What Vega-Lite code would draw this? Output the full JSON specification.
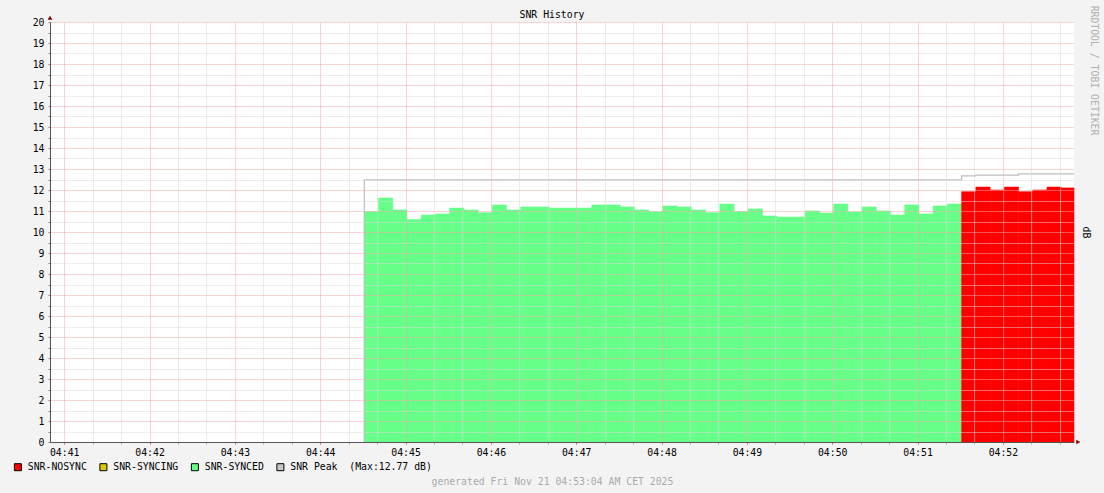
{
  "$schema": "https://vega.github.io/schema/vega-lite/v6.json",
  "width": 1024,
  "height": 420,
  "autosize": "none",
  "padding": {"left": 50, "top": 22, "right": 30, "bottom": 51},
  "background": "#f3f3f3",
  "config": {"view": {"fill": "white", "stroke": null}, "font": "DejaVu Sans Mono"},
  "title": {"text": "SNR History", "font": "DejaVu Sans Mono", "fontSize": 9.8, "fontWeight": "normal", "color": "black", "anchor": "middle", "frame": "group", "offset": 3, "dx": -10, "dy": 18},
  "datasets": {
    "snr": [
      {"t": "2025-11-21T04:44:31Z", "t2": "2025-11-21T04:44:41Z", "v": 10.97, "status": "SNR-SYNCED"},
      {"t": "2025-11-21T04:44:41Z", "t2": "2025-11-21T04:44:51Z", "v": 11.62, "status": "SNR-SYNCED"},
      {"t": "2025-11-21T04:44:51Z", "t2": "2025-11-21T04:45:01Z", "v": 11.05, "status": "SNR-SYNCED"},
      {"t": "2025-11-21T04:45:01Z", "t2": "2025-11-21T04:45:11Z", "v": 10.59, "status": "SNR-SYNCED"},
      {"t": "2025-11-21T04:45:11Z", "t2": "2025-11-21T04:45:21Z", "v": 10.81, "status": "SNR-SYNCED"},
      {"t": "2025-11-21T04:45:21Z", "t2": "2025-11-21T04:45:31Z", "v": 10.86, "status": "SNR-SYNCED"},
      {"t": "2025-11-21T04:45:31Z", "t2": "2025-11-21T04:45:41Z", "v": 11.14, "status": "SNR-SYNCED"},
      {"t": "2025-11-21T04:45:41Z", "t2": "2025-11-21T04:45:51Z", "v": 11.05, "status": "SNR-SYNCED"},
      {"t": "2025-11-21T04:45:51Z", "t2": "2025-11-21T04:46:01Z", "v": 10.92, "status": "SNR-SYNCED"},
      {"t": "2025-11-21T04:46:01Z", "t2": "2025-11-21T04:46:11Z", "v": 11.29, "status": "SNR-SYNCED"},
      {"t": "2025-11-21T04:46:11Z", "t2": "2025-11-21T04:46:21Z", "v": 11.05, "status": "SNR-SYNCED"},
      {"t": "2025-11-21T04:46:21Z", "t2": "2025-11-21T04:46:31Z", "v": 11.19, "status": "SNR-SYNCED"},
      {"t": "2025-11-21T04:46:31Z", "t2": "2025-11-21T04:46:41Z", "v": 11.19, "status": "SNR-SYNCED"},
      {"t": "2025-11-21T04:46:41Z", "t2": "2025-11-21T04:46:51Z", "v": 11.14, "status": "SNR-SYNCED"},
      {"t": "2025-11-21T04:46:51Z", "t2": "2025-11-21T04:47:01Z", "v": 11.14, "status": "SNR-SYNCED"},
      {"t": "2025-11-21T04:47:01Z", "t2": "2025-11-21T04:47:11Z", "v": 11.14, "status": "SNR-SYNCED"},
      {"t": "2025-11-21T04:47:11Z", "t2": "2025-11-21T04:47:21Z", "v": 11.29, "status": "SNR-SYNCED"},
      {"t": "2025-11-21T04:47:21Z", "t2": "2025-11-21T04:47:31Z", "v": 11.29, "status": "SNR-SYNCED"},
      {"t": "2025-11-21T04:47:31Z", "t2": "2025-11-21T04:47:41Z", "v": 11.19, "status": "SNR-SYNCED"},
      {"t": "2025-11-21T04:47:41Z", "t2": "2025-11-21T04:47:51Z", "v": 11.05, "status": "SNR-SYNCED"},
      {"t": "2025-11-21T04:47:51Z", "t2": "2025-11-21T04:48:01Z", "v": 10.97, "status": "SNR-SYNCED"},
      {"t": "2025-11-21T04:48:01Z", "t2": "2025-11-21T04:48:11Z", "v": 11.24, "status": "SNR-SYNCED"},
      {"t": "2025-11-21T04:48:11Z", "t2": "2025-11-21T04:48:21Z", "v": 11.19, "status": "SNR-SYNCED"},
      {"t": "2025-11-21T04:48:21Z", "t2": "2025-11-21T04:48:31Z", "v": 11.05, "status": "SNR-SYNCED"},
      {"t": "2025-11-21T04:48:31Z", "t2": "2025-11-21T04:48:41Z", "v": 10.92, "status": "SNR-SYNCED"},
      {"t": "2025-11-21T04:48:41Z", "t2": "2025-11-21T04:48:51Z", "v": 11.33, "status": "SNR-SYNCED"},
      {"t": "2025-11-21T04:48:51Z", "t2": "2025-11-21T04:49:01Z", "v": 10.97, "status": "SNR-SYNCED"},
      {"t": "2025-11-21T04:49:01Z", "t2": "2025-11-21T04:49:11Z", "v": 11.10, "status": "SNR-SYNCED"},
      {"t": "2025-11-21T04:49:11Z", "t2": "2025-11-21T04:49:21Z", "v": 10.76, "status": "SNR-SYNCED"},
      {"t": "2025-11-21T04:49:21Z", "t2": "2025-11-21T04:49:31Z", "v": 10.71, "status": "SNR-SYNCED"},
      {"t": "2025-11-21T04:49:31Z", "t2": "2025-11-21T04:49:41Z", "v": 10.71, "status": "SNR-SYNCED"},
      {"t": "2025-11-21T04:49:41Z", "t2": "2025-11-21T04:49:51Z", "v": 11.00, "status": "SNR-SYNCED"},
      {"t": "2025-11-21T04:49:51Z", "t2": "2025-11-21T04:50:01Z", "v": 10.90, "status": "SNR-SYNCED"},
      {"t": "2025-11-21T04:50:01Z", "t2": "2025-11-21T04:50:11Z", "v": 11.33, "status": "SNR-SYNCED"},
      {"t": "2025-11-21T04:50:11Z", "t2": "2025-11-21T04:50:21Z", "v": 10.95, "status": "SNR-SYNCED"},
      {"t": "2025-11-21T04:50:21Z", "t2": "2025-11-21T04:50:31Z", "v": 11.19, "status": "SNR-SYNCED"},
      {"t": "2025-11-21T04:50:31Z", "t2": "2025-11-21T04:50:41Z", "v": 11.00, "status": "SNR-SYNCED"},
      {"t": "2025-11-21T04:50:41Z", "t2": "2025-11-21T04:50:51Z", "v": 10.81, "status": "SNR-SYNCED"},
      {"t": "2025-11-21T04:50:51Z", "t2": "2025-11-21T04:51:01Z", "v": 11.29, "status": "SNR-SYNCED"},
      {"t": "2025-11-21T04:51:01Z", "t2": "2025-11-21T04:51:11Z", "v": 10.86, "status": "SNR-SYNCED"},
      {"t": "2025-11-21T04:51:11Z", "t2": "2025-11-21T04:51:21Z", "v": 11.24, "status": "SNR-SYNCED"},
      {"t": "2025-11-21T04:51:21Z", "t2": "2025-11-21T04:51:31Z", "v": 11.33, "status": "SNR-SYNCED"},
      {"t": "2025-11-21T04:51:31Z", "t2": "2025-11-21T04:51:41Z", "v": 11.92, "status": "SNR-NOSYNC"},
      {"t": "2025-11-21T04:51:41Z", "t2": "2025-11-21T04:51:51Z", "v": 12.14, "status": "SNR-NOSYNC"},
      {"t": "2025-11-21T04:51:51Z", "t2": "2025-11-21T04:52:01Z", "v": 12.00, "status": "SNR-NOSYNC"},
      {"t": "2025-11-21T04:52:01Z", "t2": "2025-11-21T04:52:11Z", "v": 12.14, "status": "SNR-NOSYNC"},
      {"t": "2025-11-21T04:52:11Z", "t2": "2025-11-21T04:52:21Z", "v": 11.92, "status": "SNR-NOSYNC"},
      {"t": "2025-11-21T04:52:21Z", "t2": "2025-11-21T04:52:31Z", "v": 12.00, "status": "SNR-NOSYNC"},
      {"t": "2025-11-21T04:52:31Z", "t2": "2025-11-21T04:52:41Z", "v": 12.14, "status": "SNR-NOSYNC"},
      {"t": "2025-11-21T04:52:41Z", "t2": "2025-11-21T04:52:50Z", "v": 12.10, "status": "SNR-NOSYNC"}
    ],
    "peak": [
      {"i": 0, "t": "2025-11-21T04:44:31Z", "v": 0},
      {"i": 1, "t": "2025-11-21T04:44:31Z", "v": 12.48},
      {"i": 2, "t": "2025-11-21T04:51:31Z", "v": 12.67},
      {"i": 3, "t": "2025-11-21T04:51:41Z", "v": 12.71},
      {"i": 4, "t": "2025-11-21T04:52:11Z", "v": 12.77},
      {"i": 5, "t": "2025-11-21T04:52:50Z", "v": 12.77}
    ]
  },
  "layer": [
    {
      "data": {"name": "snr"},
      "mark": {"type": "rect", "strokeWidth": 0.6, "stroke": {"expr": "datum.status === 'SNR-NOSYNC' ? '#ff0000' : '#66ff88'"}},
      "encoding": {
        "x": {
          "field": "t", "type": "temporal",
          "scale": {"type": "utc", "domain": [1763700050000, 1763700770000], "nice": false},
          "axis": {
            "orient": "bottom",
            "tickCount": 100,
            "values": [1763700060000,1763700080000,1763700100000,1763700120000,1763700140000,1763700160000,1763700180000,1763700200000,1763700220000,1763700240000,1763700260000,1763700280000,1763700300000,1763700320000,1763700340000,1763700360000,1763700380000,1763700400000,1763700420000,1763700440000,1763700460000,1763700480000,1763700500000,1763700520000,1763700540000,1763700560000,1763700580000,1763700600000,1763700620000,1763700640000,1763700660000,1763700680000,1763700700000,1763700720000,1763700740000,1763700760000],
            "labelExpr": "utcseconds(datum.value) === 0 ? utcFormat(datum.value, '%H:%M') : ''",
            "labelOverlap": false, "labelFlush": false,
            "labelFont": "DejaVu Sans Mono", "labelFontSize": 9.8, "labelColor": "black", "labelPadding": 3,
            "grid": true,
            "gridColor": {"condition": {"test": "utcseconds(datum.value) === 0", "value": "#f2a8a8"}, "value": "#d8d8d8"},
            "gridDash": [1, 1], "gridWidth": 1,
            "ticks": true, "tickSize": 2,
            "tickColor": {"condition": {"test": "utcseconds(datum.value) === 0", "value": "#d06060"}, "value": "#aaaaaa"},
            "domainColor": "#555555", "domainWidth": 1,
            "zindex": 1,
            "title": "generated Fri Nov 21 04:53:04 AM CET 2025",
            "titleFont": "DejaVu Sans Mono", "titleFontSize": 9.8, "titleFontWeight": "normal", "titleColor": "#aaaaaa",
            "titleX": 502, "titleY": 39, "titleAlign": "center", "titleBaseline": "middle"
          }
        },
        "x2": {"field": "t2"},
        "y": {
          "field": "v", "type": "quantitative",
          "scale": {"domain": [0, 20], "nice": false, "zero": true},
          "axis": {
            "orient": "left",
            "tickCount": 100,
            "values": [0,0.5,1,1.5,2,2.5,3,3.5,4,4.5,5,5.5,6,6.5,7,7.5,8,8.5,9,9.5,10,10.5,11,11.5,12,12.5,13,13.5,14,14.5,15,15.5,16,16.5,17,17.5,18,18.5,19,19.5,20],
            "labelExpr": "datum.value % 1 === 0 ? format(datum.value, 'd') : ''",
            "labelOverlap": false, "labelFlush": false,
            "labelFont": "DejaVu Sans Mono", "labelFontSize": 9.8, "labelColor": "black", "labelPadding": 4,
            "grid": true,
            "gridColor": {"condition": {"test": "datum.value % 1 === 0", "value": "#f2a8a8"}, "value": "#d8d8d8"},
            "gridDash": [1, 1], "gridWidth": 1,
            "ticks": true, "tickSize": 2, "tickColor": "#888888",
            "domainColor": "#555555", "domainWidth": 1,
            "zindex": 1,
            "title": "RRDTOOL / TOBI OETIKER", "titleFont": "DejaVu Sans Mono", "titleFontSize": 9.8, "titleFontWeight": "normal", "titleColor": "#b0b0b0",
            "titleAngle": 90, "titleX": 1043, "titleY": 48, "titleAlign": "center", "titleBaseline": "middle"
          }
        },
        "y2": {"datum": 0},
        "color": {
          "field": "status", "type": "nominal",
          "scale": {"domain": ["SNR-NOSYNC", "SNR-SYNCING", "SNR-SYNCED", "SNR Peak\u00a0\u00a0(Max:12.77 dB)"], "range": ["#ff0000", "#dccc00", "#66ff88", "#c8c8c8"]},
          "legend": {
            "orient": "none", "legendX": -37, "legendY": 440, "direction": "horizontal", "title": null,
            "symbolType": "square", "symbolSize": 49, "symbolStrokeColor": "black", "symbolStrokeWidth": 1, "symbolOpacity": 1,
            "labelFont": "DejaVu Sans Mono", "labelFontSize": 9.8, "labelColor": "black", "labelOffset": 5,
            "columnPadding": 10.5, "padding": 0
          }
        }
      }
    },
    {
      "data": {"name": "peak"},
      "mark": {"type": "line", "interpolate": "step-after", "color": "#bdbdbd", "strokeWidth": 1.2},
      "encoding": {
        "x": {"field": "t", "type": "temporal"},
        "y": {
          "field": "v", "type": "quantitative",
          "axis": {
            "orient": "right", "labels": false, "ticks": false, "domain": false, "grid": false,
            "title": "dB", "titleFont": "DejaVu Sans Mono", "titleFontSize": 9.8, "titleFontWeight": "normal", "titleColor": "black",
            "titleAngle": 90, "titleX": 11, "titleY": 210, "titleAlign": "center", "titleBaseline": "middle"
          }
        },
        "order": {"field": "i"}
      }
    },
    {
      "data": {"values": [{"a": 1}]},
      "mark": {"type": "point", "shape": "triangle-up", "filled": true, "color": "#800000", "size": 22, "opacity": 1},
      "encoding": {
        "x": {"datum": 1763700050000, "type": "temporal"},
        "y": {"datum": 20.2, "type": "quantitative", "axis": null}
      }
    },
    {
      "data": {"values": [{"a": 1}]},
      "mark": {"type": "point", "shape": "triangle-right", "filled": true, "color": "#800000", "size": 22, "opacity": 1},
      "encoding": {
        "x": {"datum": 1763700773000, "type": "temporal"},
        "y": {"datum": 0, "type": "quantitative", "axis": null}
      }
    }
  ],
  "resolve": {"axis": {"y": "independent"}}
}
